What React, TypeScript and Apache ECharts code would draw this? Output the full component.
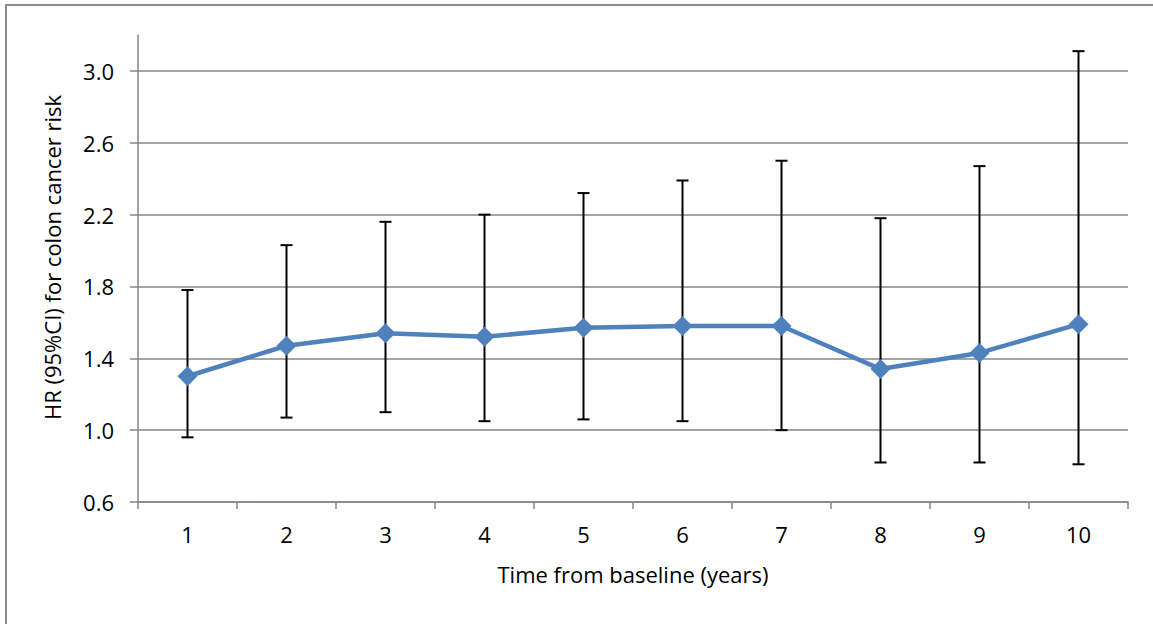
import React, { useEffect, useRef } from "react";
import * as echarts from "echarts";

const categories = ["1", "2", "3", "4", "5", "6", "7", "8", "9", "10"];
const hrValues = [1.30, 1.47, 1.54, 1.52, 1.57, 1.58, 1.58, 1.34, 1.43, 1.59];
const ciLower = [0.96, 1.07, 1.10, 1.05, 1.06, 1.05, 1.00, 0.82, 0.82, 0.81];
const ciUpper = [1.78, 2.03, 2.16, 2.20, 2.32, 2.39, 2.50, 2.18, 2.47, 3.11];
const yTicks = [0.6, 1.0, 1.4, 1.8, 2.2, 2.6, 3.0];

const FONT = "'Open Sans', 'Noto Sans', sans-serif";
const GRAY = "#868686";
const FS = 22;

export default function App() {
  const ref = useRef<HTMLDivElement>(null);
  useEffect(() => {
    document.body.style.margin = "0";
    if (!ref.current) return;
    const chart = echarts.init(ref.current, undefined, { renderer: "svg" });
    const errData = categories.map((_, i) => [i, ciLower[i], ciUpper[i]]);
    chart.setOption({
      animation: false,
      textStyle: { fontFamily: FONT },
      grid: { left: 138, right: 25, top: 35, bottom: 122, containLabel: false },
      xAxis: {
        type: "category",
        data: categories,
        boundaryGap: true,
        name: "Time from baseline (years)",
        nameLocation: "middle",
        nameGap: 61,
        nameTextStyle: { fontSize: FS, color: "#000", fontFamily: FONT },
        axisLine: { lineStyle: { color: GRAY, width: 1.5 } },
        axisTick: { show: true, length: 7, lineStyle: { color: GRAY, width: 1.5 } },
        axisLabel: { fontSize: FS, color: "#000", margin: 21, fontFamily: FONT },
        splitLine: { show: false },
      },
      yAxis: {
        type: "value",
        min: 0.6,
        max: 3.2,
        interval: 0.4,
        name: "HR (95%CI) for colon cancer risk",
        nameLocation: "middle",
        nameGap: 75,
        nameRotate: 90,
        nameTextStyle: { fontSize: FS, color: "#000", fontFamily: FONT, padding: [0, 0, 0, 22] },
        axisLine: { show: true, lineStyle: { color: GRAY, width: 1.5 } },
        axisTick: { show: true, length: 8, customValues: yTicks, lineStyle: { color: GRAY, width: 1.5 } },
        axisLabel: {
          fontSize: FS,
          color: "#000",
          margin: 24,
          fontFamily: FONT,
          customValues: yTicks,
          formatter: (v: number) => v.toFixed(1),
        },
        splitLine: { show: true, lineStyle: { color: GRAY, width: 1.5 } },
      },
      series: [
        {
          type: "custom",
          z: 2,
          data: errData,
          encode: { x: 0, y: [1, 2] },
          renderItem: (params: any, api: any) => {
            const x = api.value(0);
            const lo = api.coord([x, api.value(1)]);
            const hi = api.coord([x, api.value(2)]);
            const hw = 6;
            const style = { stroke: "#000", lineWidth: 2 };
            return {
              type: "group",
              children: [
                { type: "line", shape: { x1: lo[0], y1: hi[1], x2: lo[0], y2: lo[1] }, style },
                { type: "line", shape: { x1: lo[0] - hw, y1: hi[1], x2: lo[0] + hw, y2: hi[1] }, style },
                { type: "line", shape: { x1: lo[0] - hw, y1: lo[1], x2: lo[0] + hw, y2: lo[1] }, style },
              ],
            };
          },
        },
        {
          type: "line",
          z: 3,
          data: hrValues,
          symbol: "diamond",
          symbolSize: 20,
          lineStyle: { color: "#4F81BD", width: 4.5 },
          itemStyle: { color: "#4F81BD" },
        },
      ],
    });
    return () => chart.dispose();
  }, []);
  return (
    <div style={{ position: "relative", width: 1153, height: 624, overflow: "hidden", background: "#fff" }}>
      <div
        style={{
          position: "absolute",
          left: 5,
          top: 4,
          width: 1300,
          height: 800,
          border: "2px solid #8c8c8c",
          boxSizing: "border-box",
        }}
      />
      <div ref={ref} style={{ position: "absolute", left: 0, top: 0, width: 1153, height: 624 }} />
    </div>
  );
}
